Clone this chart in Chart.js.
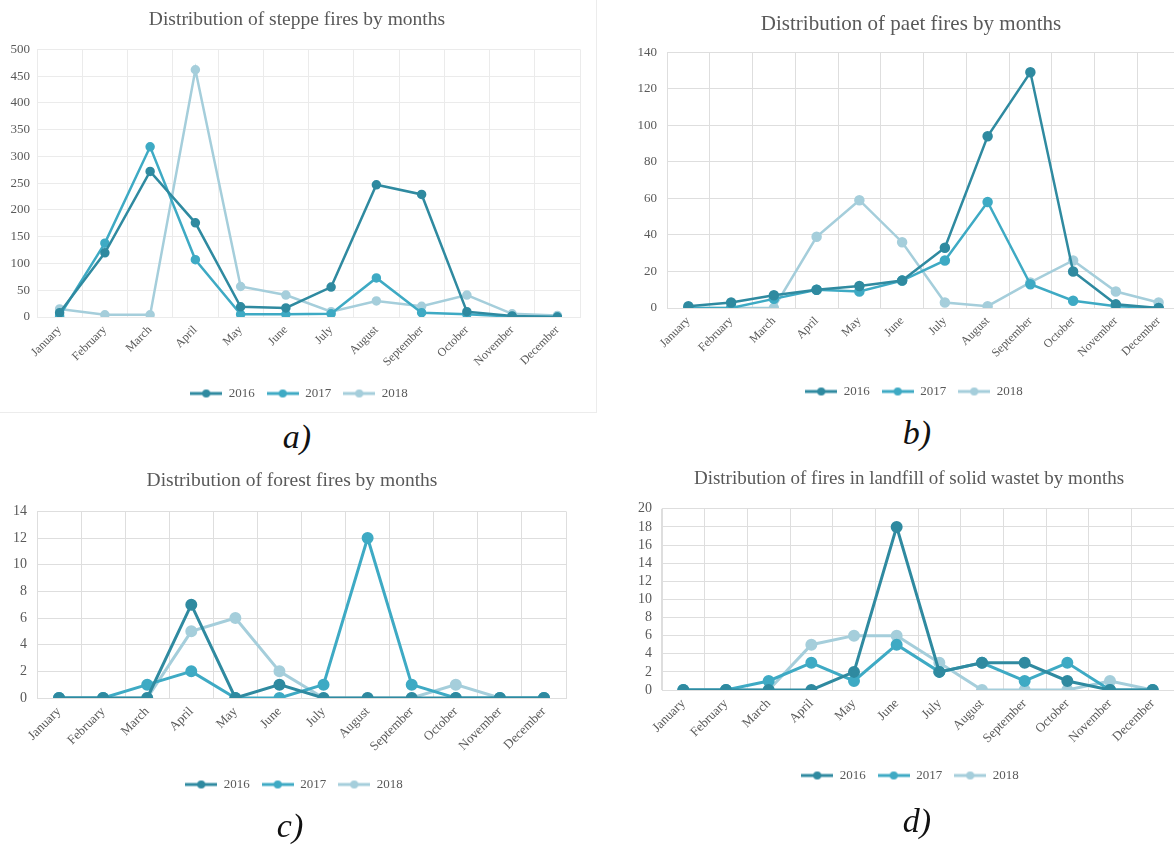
<!DOCTYPE html>
<html>
<head>
<meta charset="utf-8">
<script src="https://cdn.jsdelivr.net/npm/chart.js@4.4.1/dist/chart.umd.min.js"></script>
<style>
  html, body { margin: 0; padding: 0; background: #fff; overflow: hidden; }
  body { width: 1174px; height: 846px; position: relative; }
  .box { position: absolute; }
  .frame { position: absolute; left: 0; top: 0; width: 596px; height: 412px;
           border-right: 1px solid #ececec; border-bottom: 1px solid #ececec; }
  .tag { position: absolute; font-family: "Liberation Serif", serif; font-style: italic;
         font-size: 34px; color: #111; transform: translate(-50%, -50%); }
</style>
</head>
<body>
<div class="frame"></div>
<div class="box" style="left:0px;top:0px;width:598px;height:412px"><canvas id="steppe"></canvas></div>
<div class="box" style="left:600px;top:0px;width:590px;height:412px"><canvas id="peat"></canvas></div>
<div class="box" style="left:0px;top:462px;width:590px;height:350px"><canvas id="forest"></canvas></div>
<div class="box" style="left:600px;top:462px;width:590px;height:350px"><canvas id="landfill"></canvas></div>
<div class="tag" style="left:297px;top:437px">a)</div>
<div class="tag" style="left:917px;top:433px">b)</div>
<div class="tag" style="left:290px;top:826px">c)</div>
<div class="tag" style="left:917px;top:821px">d)</div>

<script>
// months and years
var months = ["January", "February", "March", "April", "May", "June", "July",
              "August", "September", "October", "November", "December"];
var years = ["2016", "2017", "2018"];
var colors = ["#2f8aa0", "#3eaac4", "#a5cedb"];

// steppe fires
var steppe2016 = [8, 120, 272, 176, 19, 17, 56, 247, 229, 10, 2, 0];
var steppe2017 = [2, 138, 318, 107, 5, 5, 6, 73, 8, 5, 1, 0];
var steppe2018 = [15, 4, 4, 462, 57, 41, 10, 30, 20, 41, 6, 3];

// peat fires
var peat2016 = [1, 3, 7, 10, 12, 15, 33, 94, 129, 20, 2, 0];
var peat2017 = [0, 0, 5, 10, 9, 15, 26, 58, 13, 4, 1, 0];
var peat2018 = [0, 0, 0, 39, 59, 36, 3, 1, 14, 26, 9, 3];

// forest fires
var forest2016 = [0, 0, 0, 7, 0, 1, 0, 0, 0, 0, 0, 0];
var forest2017 = [0, 0, 1, 2, 0, 0, 1, 12, 1, 0, 0, 0];
var forest2018 = [0, 0, 0, 5, 6, 2, 0, 0, 0, 1, 0, 0];

// landfill fires
var landfill2016 = [0, 0, 0, 0, 2, 18, 2, 3, 3, 1, 0, 0];
var landfill2017 = [0, 0, 1, 3, 1, 5, 2, 3, 1, 3, 0, 0];
var landfill2018 = [0, 0, 0, 5, 6, 6, 3, 0, 0, 0, 1, 0];

function legendIcon(color) {
    var c = document.createElement("canvas");
    c.width = 32;
    c.height = 10;
    var g = c.getContext("2d");
    g.strokeStyle = color;
    g.lineWidth = 3;
    g.beginPath();
    g.moveTo(0, 5);
    g.lineTo(32, 5);
    g.stroke();
    g.fillStyle = color;
    g.beginPath();
    g.arc(16, 5, 4, 0, Math.PI * 2);
    g.fill();
    return c;
}
var icons = colors.map(legendIcon);

// move title and legend so they are centred where the original has them
var centerBoxes = {
    id: "centerBoxes",
    afterLayout: function (chart, args, opts) {
        [[chart.titleBlock, opts.title], [chart.legend, opts.legend]].forEach(function (p) {
            var b = p[0];
            if (!b || p[1] == null) return;
            var dx = p[1] - (b.left + b.right) / 2;
            b.left += dx;
            b.right += dx;
        });
    }
};

function makeChart(id, titleText, series, yMax, yStep, o) {
    var ctx = document.getElementById(id).getContext("2d");
    var datasets = series.map(function (values, i) {
        return {
            label: years[i],
            data: values,
            borderColor: colors[i],
            backgroundColor: colors[i],
            borderWidth: o.lineWidth,
            pointRadius: o.pointRadius,
            pointHoverRadius: o.pointRadius,
            tension: 0
        };
    });
    return new Chart(ctx, {
        type: "line",
        data: { labels: months, datasets: datasets },
        plugins: [centerBoxes],
        options: {
            responsive: true,
            maintainAspectRatio: false,
            animation: false,
            layout: { padding: o.padding },
            scales: {
                x: {
                    offset: true,
                    grid: { offset: true, color: o.grid, drawTicks: false },
                    border: { color: o.grid },
                    ticks: {
                        minRotation: 45, maxRotation: 45, padding: 6,
                        color: "#595959",
                        font: { family: "Liberation Serif", size: o.xFont }
                    },
                    afterFit: function (scale) { scale.height = o.xHeight; }
                },
                y: {
                    min: 0, max: yMax,
                    grid: { color: o.grid, drawTicks: false },
                    border: { color: o.grid },
                    ticks: {
                        stepSize: yStep, padding: o.yPad, autoSkip: false,
                        color: "#595959",
                        font: { family: "Liberation Serif", size: o.yFont }
                    },
                    afterFit: function (scale) { scale.width = o.yWidth; }
                }
            },
            plugins: {
                tooltip: { enabled: false },
                centerBoxes: { title: o.titleX, legend: o.legendX },
                title: {
                    display: true,
                    text: titleText,
                    color: "#595959",
                    font: { family: "Liberation Serif", size: o.titleSize, weight: "normal" },
                    padding: { top: o.titleTop, bottom: o.titleBottom }
                },
                legend: {
                    position: "bottom",
                    labels: {
                        usePointStyle: true,
                        pointStyleWidth: 32,
                        padding: 12,
                        color: "#595959",
                        font: { family: "Liberation Serif", size: 13 },
                        generateLabels: function (chart) {
                            var items = Chart.defaults.plugins.legend.labels.generateLabels(chart);
                            items.forEach(function (it, i) { it.pointStyle = icons[i]; });
                            return items;
                        }
                    }
                }
            }
        }
    });
}

makeChart("steppe", "Distribution of steppe fires by months",
    [steppe2016, steppe2017, steppe2018], 500, 50,
    { padding: { left: 0, right: 18, top: 0, bottom: 2 }, yWidth: 37, xHeight: 58,
      titleX: 297, legendX: 299,
      titleSize: 19.5, titleTop: 8, titleBottom: 18, grid: "#ebebeb", xFont: 12, yFont: 13, yPad: 7,
      lineWidth: 2.5, pointRadius: 3.5 });

makeChart("peat", "Distribution of paet fires by months",
    [peat2016, peat2017, peat2018], 140, 20,
    { padding: { left: 0, right: 10, top: 0, bottom: 4 }, yWidth: 67, xHeight: 65,
      titleX: 311, legendX: 314,
      titleSize: 21, titleTop: 12, titleBottom: 15, grid: "#dedede", xFont: 12, yFont: 13, yPad: 10,
      lineWidth: 2.5, pointRadius: 4 });

makeChart("forest", "Distribution of forest fires by months",
    [forest2016, forest2017, forest2018], 14, 2,
    { padding: { left: 0, right: 24, top: 0, bottom: 11 }, yWidth: 37, xHeight: 68,
      titleX: 292, legendX: 294,
      titleSize: 19.5, titleTop: 7, titleBottom: 19, grid: "#dedede", xFont: 13, yFont: 14, yPad: 10,
      lineWidth: 3, pointRadius: 4.5 });

makeChart("landfill", "Distribution of fires in landfill of solid wastet by months",
    [landfill2016, landfill2017, landfill2018], 20, 2,
    { padding: { left: 0, right: 16, top: 0, bottom: 20 }, yWidth: 62, xHeight: 67,
      titleX: 309, legendX: 310,
      titleSize: 19, titleTop: 6, titleBottom: 18, grid: "#dedede", xFont: 13, yFont: 14, yPad: 10,
      lineWidth: 3, pointRadius: 4.5 });
</script>
</body>
</html>
